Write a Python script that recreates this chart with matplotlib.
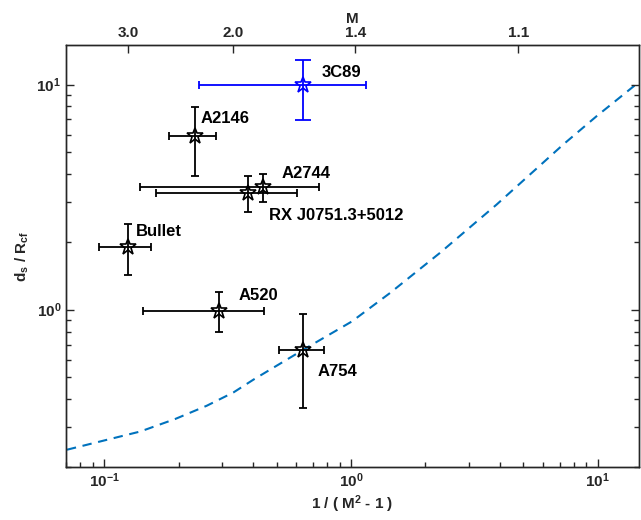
import matplotlib
matplotlib.use("Agg")
import matplotlib.pyplot as plt
from matplotlib.ticker import LogLocator, NullFormatter, FixedLocator, FixedFormatter, NullLocator

plt.rcParams['font.family'] = ['Liberation Sans', 'DejaVu Sans']
plt.rcParams['mathtext.fontset'] = 'custom'
plt.rcParams['mathtext.rm'] = 'Liberation Sans:bold'
plt.rcParams['mathtext.it'] = 'Liberation Sans:bold'
plt.rcParams['mathtext.bf'] = 'Liberation Sans:bold'

# ---- data ----
names = ["A2146", "A2744", "RX J0751.3+5012", "Bullet", "A520", "A754"]
x_val = [0.2335, 0.4415, 0.384, 0.1254, 0.293, 0.641]
x_lo = [0.183, 0.140, 0.1625, 0.0948, 0.1435, 0.511]
x_hi = [0.284, 0.744, 0.606, 0.155, 0.4446, 0.775]
y_val = [5.89, 3.50, 3.30, 1.90, 0.983, 0.664]
y_lo = [3.94, 3.01, 2.71, 1.42, 0.796, 0.364]
y_hi = [7.96, 4.01, 3.91, 2.41, 1.20, 0.96]

c89_name = "3C89"
c89_x, c89_xlo, c89_xhi = 0.637, 0.241, 1.147
c89_y, c89_ylo, c89_yhi = 10.0, 6.99, 12.9

curve_x = [0.0706, 0.0994, 0.140, 0.1938, 0.2604, 0.334, 0.402, 0.641, 1.009,
           1.439, 2.292, 2.849, 3.89, 5.305, 7.235, 9.88, 14.55]
curve_y = [0.2387, 0.262, 0.2876, 0.3268, 0.3744, 0.429, 0.4886, 0.664, 0.887,
           1.186, 1.787, 2.19, 2.93, 3.98, 5.41, 7.23, 10.18]

M_ticks = [3.0, 2.0, 1.4, 1.1]
M_labels = ["3.0", "2.0", "1.4", "1.1"]

# label offsets (pixels) from each point
lab_off = [(5, 18), (18, 14), (21, -23), (7, 15), (19, 16), (14, -22)]
c89_off = (19, 12)

# ---- figure ----
fig = plt.figure(figsize=(6.41, 5.20), dpi=100)
ax = fig.add_axes([0.103, 0.1019, 0.8939, 0.8116])
ax.set_xscale('log')
ax.set_yscale('log')

dark = '#262626'
fs = 11
fs_lab = 12

ax.plot(curve_x, curve_y, linestyle=(0, (4.5, 3.2)), color='#0072BD', lw=1.5, zorder=1)

for i, n in enumerate(names):
    xe = [[x_val[i] - x_lo[i]], [x_hi[i] - x_val[i]]]
    ye = [[y_val[i] - y_lo[i]], [y_hi[i] - y_val[i]]]
    ax.errorbar([x_val[i]], [y_val[i]], xerr=xe, yerr=ye, fmt='none',
                ecolor='black', elinewidth=1.3, capsize=2.9, capthick=1.3, zorder=2)
    ax.plot([x_val[i]], [y_val[i]], marker='*', ms=12, mfc='none', mec='black',
            mew=1.2, ls='none', zorder=3)
    ax.annotate(n, (x_val[i], y_val[i]), xytext=lab_off[i], textcoords='offset pixels',
                ha='left', va='center', fontsize=fs_lab, fontweight='bold', color='black')

# 3C89 (blue)
ax.errorbar([c89_x], [c89_y], xerr=[[c89_x - c89_xlo], [c89_xhi - c89_x]],
            fmt='none', ecolor='blue', elinewidth=1.3, capsize=2.9, capthick=1.3, zorder=2)
ax.errorbar([c89_x], [c89_y], yerr=[[c89_y - c89_ylo], [c89_yhi - c89_y]],
            fmt='none', ecolor='blue', elinewidth=1.3, capsize=6, capthick=1.3, zorder=2)
ax.plot([c89_x], [c89_y], marker='*', ms=12, mfc='none', mec='blue', mew=1.2,
        ls='none', zorder=3)
ax.annotate(c89_name, (c89_x, c89_y), xytext=c89_off, textcoords='offset pixels',
            ha='left', va='center', fontsize=fs_lab, fontweight='bold', color='black')

ax.set_xlim(0.07, 14.7)
ax.set_ylim(0.2, 15)

ax.xaxis.set_major_locator(LogLocator(base=10, numticks=10))
ax.xaxis.set_minor_locator(LogLocator(base=10, subs=range(2, 10), numticks=20))
ax.yaxis.set_major_locator(LogLocator(base=10, numticks=10))
ax.yaxis.set_minor_locator(LogLocator(base=10, subs=range(2, 10), numticks=20))
ax.xaxis.set_minor_formatter(NullFormatter())
ax.yaxis.set_minor_formatter(NullFormatter())

ax.tick_params(which='both', direction='in', top=False, right=True, colors=dark,
               labelsize=fs, width=1.0)
ax.tick_params(which='major', length=6)
ax.tick_params(which='minor', length=3.5)
for lab in ax.get_xticklabels() + ax.get_yticklabels():
    lab.set_fontweight('bold')
for s in ax.spines.values():
    s.set_color(dark)
    s.set_linewidth(1.0)

ax.set_xlabel(r'1 / ( M$^{2}$ - 1 )', fontsize=fs, fontweight='bold', color=dark, labelpad=2)
ax.set_ylabel(r'd$_{s}$ / R$_{cf}$', fontsize=fs, fontweight='bold', color=dark, labelpad=4)

# top M axis
ax2 = ax.twiny()
ax2.set_xscale('log')
ax2.set_xlim(ax.get_xlim())
ax2.xaxis.set_major_locator(FixedLocator([1.0 / (m * m - 1.0) for m in M_ticks]))
ax2.xaxis.set_major_formatter(FixedFormatter(M_labels))
ax2.xaxis.set_minor_locator(NullLocator())
ax2.tick_params(which='both', direction='in', colors=dark, labelsize=fs, length=6, width=1.0)
for lab in ax2.get_xticklabels():
    lab.set_fontweight('bold')
ax2.set_xlabel('M', fontsize=fs, fontweight='bold', color=dark, labelpad=2)
for s in ax2.spines.values():
    s.set_color(dark)
    s.set_linewidth(1.0)

fig.savefig('out.png', dpi=100)
